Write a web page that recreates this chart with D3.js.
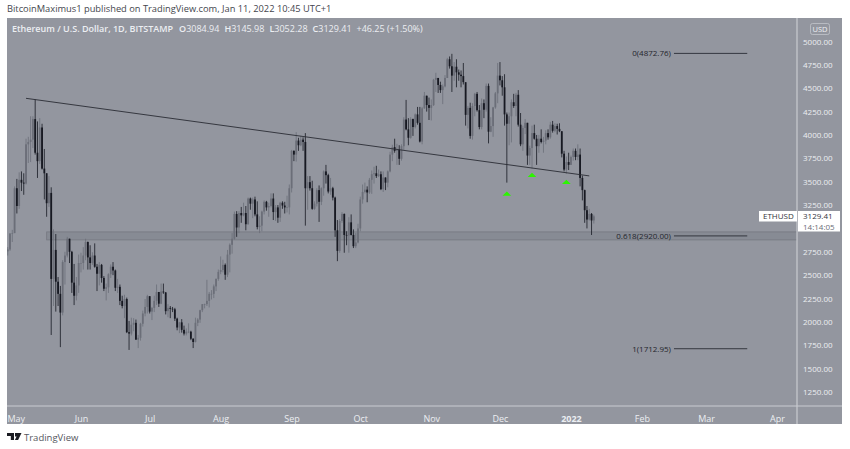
<!DOCTYPE html>
<html><head><meta charset="utf-8">
<script src="https://d3js.org/d3.v7.min.js"></script>
<style>
html,body{margin:0;padding:0;background:#fff}
svg{display:block}
text{font-family:"Open Sans","DejaVu Sans",sans-serif}
</style></head><body><div id="c"></div>
<script>
const lastDate = "2022-01-11";
const firstOpen = 2660;
const closes = [
2755,2775,
2945,2950,3430,3240,3520,3490,3480,3900,3925,3950,4170,3810,3720,4080,3640,3590,3270,3380,2460,2770,2430,2300,2100,2640,2710,2890,2750,2420,2280,2390,2630,
2630,2710,2855,2690,2630,2710,2590,2515,2610,2470,2355,2370,2510,2590,2550,2365,2375,2225,2170,2245,1890,1875,1970,1990,1810,1830,1980,2090,2160,2275,
2110,2150,2225,2320,2195,2325,2315,2115,2150,2140,2135,2035,1940,1995,1915,1875,1895,1895,1820,1785,1990,2025,2125,2190,2190,2225,2300,2300,2380,2460,2535,
2555,2610,2505,2720,2825,2890,3155,3010,3165,3140,3165,3045,3320,3265,3310,3150,3015,3030,3180,3285,3225,3240,3320,3175,3225,3115,3275,3245,3225,3225,3430,
3830,3790,3940,3890,3950,3925,3430,3495,3430,3210,3265,3410,3285,3430,3610,3570,3395,3430,3330,2980,2760,3080,3155,2930,2925,3065,2930,2810,2850,3000,
3310,3390,3415,3385,3520,3580,3590,3560,3580,3420,3545,3490,3610,3790,3870,3830,3845,3745,3880,4165,4060,3970,4170,4085,4220,4130,3930,4285,4420,4320,4290,
4320,4590,4610,4535,4480,4520,4610,4810,4735,4635,4730,4670,4645,4630,4565,4215,4290,3990,4310,4440,4265,4085,4340,4270,4525,4035,4095,4295,4445,4635,
4585,4510,4220,4120,4200,4350,4310,4430,4110,3900,4075,4130,3780,3860,4020,3960,3880,3960,3925,3940,4020,3975,4110,4045,4095,4065,4040,3800,3630,3710,3680,
3765,3830,3765,3790,3540,3410,3195,3095,3155,3085,3129.41];
const highs = [
2800,2800,
2950,2985,3450,3530,3600,3610,3590,3960,3980,4200,4200,4380,4145,4180,4120,3850,3590,3560,3440,2990,2940,2480,2385,2660,2750,2910,2890,2760,2620,2480,2720,
2740,2800,2890,2860,2820,2745,2840,2620,2640,2620,2490,2410,2520,2615,2640,2560,2460,2400,2280,2290,2260,2010,2045,2040,2025,1860,1990,2120,2245,2290,
2275,2160,2280,2400,2320,2410,2410,2320,2190,2170,2160,2150,2045,2000,2030,1960,1930,1985,1905,1825,2045,2040,2130,2190,2195,2450,2320,2340,2400,2465,2560,
2700,2665,2625,2770,2840,2950,3180,3185,3185,3230,3275,3240,3330,3330,3330,3340,3290,3130,3190,3300,3295,3275,3375,3375,3250,3250,3285,3290,3285,3350,3470,
3840,3835,4030,3970,3990,3975,4020,3560,3560,3510,3290,3430,3460,3440,3620,3680,3585,3540,3445,3340,3090,3100,3175,3160,2970,3120,3150,2990,2950,3050,
3340,3470,3490,3450,3540,3620,3660,3670,3630,3610,3610,3545,3620,3820,3895,3960,3905,3890,3900,4190,4375,4180,4190,4175,4230,4300,4300,4300,4460,4420,4400,
4380,4600,4665,4610,4570,4540,4640,4825,4840,4868,4780,4810,4700,4690,4770,4560,4310,4345,4340,4450,4460,4320,4390,4380,4550,4550,4190,4300,4460,4770,
4780,4630,4650,4240,4240,4380,4440,4450,4480,4235,4100,4170,4130,3885,4100,4110,4000,4000,4060,3980,4050,4060,4140,4150,4125,4120,4125,4040,3830,3770,3810,
3780,3855,3855,3900,3855,3565,3415,3240,3210,3165,3145.98];
const lows = [
2660,2710,
2760,2855,2950,3160,3210,3400,3360,3470,3700,3710,3860,3790,3540,3690,3630,3310,3125,3230,1860,2170,2110,2170,1730,2070,2400,2690,2630,2310,2180,2230,2310,
2530,2560,2660,2560,2560,2610,2580,2330,2390,2420,2330,2230,2310,2470,2500,2330,2310,2180,2145,2040,1880,1700,1855,1900,1810,1720,1800,1950,2060,2090,
2090,2020,2105,2180,2160,2190,2300,2080,2050,2040,2105,2010,1910,1880,1885,1855,1855,1880,1805,1720,1780,1955,1990,2105,2145,2170,2155,2240,2255,2330,2440,
2510,2530,2450,2480,2530,2730,2880,2910,2950,3060,3130,2980,3040,3200,3110,3130,2990,2950,2970,3150,3190,3125,3225,3090,3080,3060,3070,3210,3160,3170,3150,
3385,3720,3715,3830,3880,3830,3030,3200,3405,3200,3200,3235,3070,3250,3350,3480,3375,3360,3300,2910,2650,2740,3060,2740,2820,2740,2925,2790,2790,2840,
2970,3265,3375,3280,3370,3370,3480,3540,3550,3410,3390,3410,3440,3600,3720,3810,3680,3680,3725,3840,4050,3890,3960,3990,4070,4110,3920,3900,4280,4250,4160,
4155,4310,4460,4450,4450,4330,4510,4610,4710,4460,4580,4510,4580,4510,4540,4100,4070,3960,3950,4200,4250,4060,4060,4180,4250,3910,4030,3980,4280,4340,
4530,4420,4100,3490,3890,3920,4290,4200,4090,3880,3830,4010,3680,3680,3640,3950,3680,3810,3910,3810,3900,3950,3960,4025,4030,4005,4030,3760,3610,3585,3625,
3680,3725,3730,3730,3450,3300,3060,3000,3085,2930,3052.28];
const monthTicks = ["2021-05-01","2021-06-01","2021-07-01","2021-08-01","2021-09-01","2021-10-01","2021-11-01","2021-12-01","2022-01-01","2022-02-01","2022-03-01","2022-04-01"];
const monthLabels = ["May","Jun","Jul","Aug","Sep","Oct","Nov","Dec","2022","Feb","Mar","Apr"];
const priceTicks = [5000,4750,4500,4250,4000,3750,3500,3250,2750,2500,2250,2000,1750,1500,1250];
const trendDates = ["2021-05-08","2022-01-09"];
const trendPrices = [4392,3562];
const fibLevels = ["0","0.618","1"];
const fibPrices = [4872.76,2920.00,1712.95];
const fibDates = ["2022-02-15","2022-03-19"];
const zoneDates = ["2021-05-17","2022-04-10"];
const zonePrices = [2963,2877];
const arrowDates = ["2021-12-04","2021-12-15","2021-12-30"];
const arrowPrices = [3365,3565,3490];

const W=850,H=449,L=7,R=797,T=18,B=406,AR=842,AB=424;
const bg="#93969f",upC="#6b6e78",dnC="#171922",sep="#c9cbd1";
const d=s=>new Date(s+"T00:00:00Z");
const x=d3.scaleUtc().domain([d("2021-05-01"),d("2022-04-01")]).range([10,777]);
const y=d3.scaleLinear().domain([5000,1250]).range([41.5,392]);
const svg=d3.select("#c").append("svg").attr("width",W).attr("height",H);
svg.append("text").attr("x",7).attr("y",12).attr("font-size",9.3).attr("fill","#44464d")
  .text("BitcoinMaximus1 published on TradingView.com, Jan 11, 2022 10:45 UTC+1");
svg.append("rect").attr("x",L).attr("y",T).attr("width",AR-L).attr("height",AB-T).attr("fill",bg);
svg.append("defs").append("clipPath").attr("id","p").append("rect").attr("x",L).attr("y",T).attr("width",R-L).attr("height",B-T);
const plot=svg.append("g").attr("clip-path","url(#p)");

// zone
plot.append("rect").attr("x",x(d(zoneDates[0]))).attr("width",x(d(zoneDates[1]))-x(d(zoneDates[0])))
  .attr("y",y(zonePrices[0])).attr("height",y(zonePrices[1])-y(zonePrices[0]))
  .attr("fill","#5f626c").attr("fill-opacity",.22).attr("stroke","#5f626c").attr("stroke-opacity",.5).attr("stroke-width",.8);

// candles
const n=closes.length, end=d(lastDate);
const data=closes.map((c,i)=>({date:d3.utcDay.offset(end,i-n+1),o:i?closes[i-1]:firstOpen,c,h:highs[i],l:lows[i]}));
data[n-1].o=3084.94;
const g=plot.selectAll("g.k").data(data).join("g").attr("class","k");
g.append("line").attr("x1",k=>x(k.date)).attr("x2",k=>x(k.date)).attr("y1",k=>y(k.h)).attr("y2",k=>y(k.l))
  .attr("stroke",k=>k.c>=k.o?upC:dnC).attr("stroke-width",.8);
g.append("rect").attr("x",k=>x(k.date)-.9).attr("width",1.8)
  .attr("y",k=>y(Math.max(k.o,k.c))).attr("height",k=>Math.max(.6,Math.abs(y(k.o)-y(k.c))))
  .attr("fill",k=>k.c>=k.o?upC:dnC);

// trend
plot.append("line").attr("x1",x(d(trendDates[0]))).attr("x2",x(d(trendDates[1])))
  .attr("y1",y(trendPrices[0])).attr("y2",y(trendPrices[1])).attr("stroke","#2a2c34").attr("stroke-width",.9);

// fib
fibLevels.forEach((lv,i)=>{
  plot.append("line").attr("x1",x(d(fibDates[0]))).attr("x2",x(d(fibDates[1])))
    .attr("y1",y(fibPrices[i])).attr("y2",y(fibPrices[i])).attr("stroke","#2a2c34").attr("stroke-width",.9);
  plot.append("text").attr("x",x(d(fibDates[0]))-3).attr("y",y(fibPrices[i])+3).attr("text-anchor","end")
    .attr("font-size",8).attr("fill","#23252d").text(`${lv}(${fibPrices[i].toFixed(2)})`);
});

// arrows
const tri=d3.symbol().type(d3.symbolTriangle).size(18);
plot.selectAll("path.a").data(arrowDates).join("path").attr("class","a").attr("d",tri)
  .attr("transform",(v,i)=>`translate(${x(d(v))},${y(arrowPrices[i])}) scale(1.35,.75)`).attr("fill","#2cf500");

// legend
const lg=svg.append("text").attr("x",12).attr("y",31.5).attr("font-size",9).attr("fill","#eceef2");
lg.append("tspan").attr("font-weight",600).text("Ethereum / U.S. Dollar, 1D, BITSTAMP");
[["O","3084.94"],["H","3145.98"],["L","3052.28"],["C","3129.41"]].forEach(([a,b],i)=>{
  lg.append("tspan").attr("dx",i?5:6).attr("font-weight",600).text(a);
  lg.append("tspan").text(b);
});
lg.append("tspan").attr("dx",5).text("+46.25 (+1.50%)");

// axes
const tx=d3.axisBottom(x).tickValues(monthTicks.map(d)).tickSize(0).tickFormat((v,i)=>monthLabels[i]);
const ax=svg.append("g").attr("transform",`translate(0,${B})`).call(tx);
ax.select(".domain").remove();
ax.selectAll("text").attr("y",9.5).attr("dy",".71em").attr("font-size",9).attr("fill","#eceef2").attr("font-weight",(v,i)=>i==8?700:400)
  .style("font-family",'"Open Sans"');
ax.selectAll(".tick").filter((v,i)=>i==0).select("text").attr("text-anchor","start").attr("x",-3);
svg.append("rect").attr("x",0).attr("y",406).attr("width",L).attr("height",20).attr("fill","#fff");
const ty=d3.axisRight(y).tickValues(priceTicks).tickSize(0).tickFormat(v=>v.toFixed(2));
const ay=svg.append("g").attr("transform",`translate(${R},0)`).call(ty);
ay.select(".domain").remove();
ay.selectAll("text").attr("x",6).attr("font-size",8).attr("fill","#eceef2");

svg.append("line").attr("x1",R).attr("x2",R).attr("y1",T).attr("y2",AB).attr("stroke",sep).attr("stroke-width",1.2);
svg.append("line").attr("x1",L).attr("x2",AR).attr("y1",B).attr("y2",B).attr("stroke",sep).attr("stroke-width",1);

// USD
svg.append("rect").attr("x",810.5).attr("y",23.5).attr("width",19).attr("height",11).attr("rx",2).attr("fill","none").attr("stroke","#c9cbd1").attr("stroke-width",.7);
svg.append("text").attr("x",820).attr("y",31.8).attr("text-anchor","middle").attr("font-size",7.5).attr("fill","#eceef2").text("USD");

// price tag
svg.append("rect").attr("x",759).attr("y",211).attr("width",38).attr("height",10.5).attr("fill","#fff");
svg.append("rect").attr("x",798).attr("y",211).attr("width",42).attr("height",20.5).attr("fill","#fff");
svg.append("text").attr("x",763).attr("y",219).attr("font-size",8).attr("fill","#33353c").text("ETHUSD");
svg.append("text").attr("x",803).attr("y",219).attr("font-size",8).attr("fill","#33353c").text("3129.41");
svg.append("text").attr("x",803).attr("y",230).attr("font-size",8).attr("fill","#6b6e78").text("14:14:05");

// logo
svg.append("path").attr("d","M7 433h7v7h-3.2v-4H7zM15 433h6.5l-3.4 7h-3.2l1.7-3.5H15z").attr("fill","#1b1c22");
svg.append("text").attr("x",24).attr("y",441).attr("font-size",9.5).attr("fill","#55575e").text("TradingView");
</script></body></html>
